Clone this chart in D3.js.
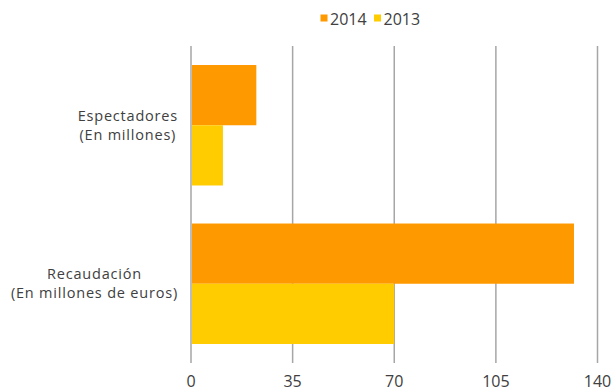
<!DOCTYPE html>
<html><head><meta charset="utf-8">
<script src="https://cdn.jsdelivr.net/npm/d3@7"></script>
<style>body{margin:0;background:#fff}svg{display:block}</style>
</head><body><div id="chart"></div>
<script>
const categories = ["Espectadores\n(En millones)", "Recaudación\n(En millones de euros)"];
const seriesNames = ["2014", "2013"];
const values2014 = [22.5, 131.9];
const values2013 = [11.0, 70.0];
const tickValues = [0, 35, 70, 105, 140];
const colors = ["#FF9900", "#FFCC00"];

const W = 611, H = 392;
const m = {left: 191, right: 13.5, top: 46, bottom: 29};
const font = "'Open Sans', sans-serif";
const fs = 14.5;
const svg = d3.select("#chart").append("svg").attr("width", W).attr("height", H);

const x = d3.scaleLinear().domain([0, 140]).range([m.left, W - m.right]);
const y = d3.scaleBand().domain(categories).range([m.top, H - m.bottom]).paddingInner(0.24).paddingOuter(0.12);
const ySub = d3.scaleBand().domain(seriesNames).range([0, y.bandwidth()]);

// gridlines
svg.append("g").selectAll("line").data(tickValues).join("line")
  .attr("x1", d => x(d)).attr("x2", d => x(d))
  .attr("y1", m.top).attr("y2", H - m.bottom)
  .attr("stroke", "#A6A6A6").attr("stroke-width", 1.5);

const series = [values2014, values2013];
const g = svg.append("g");
seriesNames.forEach((s, si) => {
  g.selectAll(".b" + si).data(categories).join("rect")
    .attr("x", x(0) + 1)
    .attr("y", (c) => y(c) + ySub(s))
    .attr("width", (c, i) => x(series[si][i]) - x(0) - 1)
    .attr("height", ySub.bandwidth())
    .attr("fill", colors[si]);
});

// x axis labels
svg.append("g").selectAll("text").data(tickValues).join("text")
  .attr("x", d => x(d)).attr("y", 387)
  .attr("text-anchor", "middle")
  .attr("font-family", font).attr("font-size", 16).attr("fill", "#404040")
  .text(d => d);

// category labels: block right-aligned, lines centered
const labelRight = 178;
categories.forEach(c => {
  const lines = c.split("\n");
  const cy = y(c) + y.bandwidth() / 2;
  const ts = lines.map((l, i) => svg.append("text").attr("font-family", font).attr("font-size", fs)
    .attr("letter-spacing", 0.8).attr("fill", "#404040").attr("text-anchor", "middle")
    .attr("y", cy + (i - (lines.length - 1) / 2) * 19 + 5).text(l));
  const maxW = d3.max(ts, s => s.node().getComputedTextLength());
  ts.forEach(s => s.attr("x", labelRight - maxW / 2));
});

// legend
const leg = svg.append("g");
const legX = [320.5, 374];
seriesNames.forEach((s, i) => {
  leg.append("rect").attr("x", legX[i]).attr("y", 14.5).attr("width", 7).attr("height", 7).attr("fill", colors[i]);
  leg.append("text").attr("x", legX[i] + 9.5).attr("y", 24.5)
    .attr("font-family", font).attr("font-size", 16).attr("fill", "#404040").text(s);
});
</script></body></html>
